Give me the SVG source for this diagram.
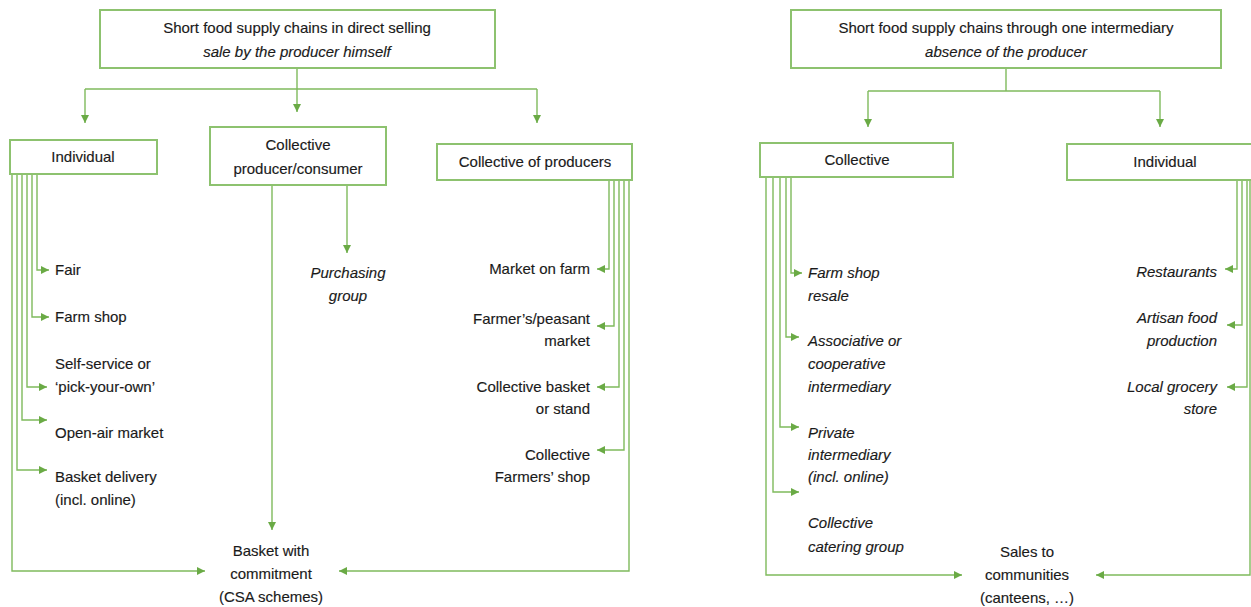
<svg xmlns="http://www.w3.org/2000/svg" width="1251" height="607" viewBox="0 0 1251 607">
<style>
.box{fill:#ffffff;stroke:#8dc26f;stroke-width:2}
.ln{fill:none;stroke:#7fba5c;stroke-width:1.4}
text{font-family:"Liberation Sans",Arial,sans-serif;font-size:15px;fill:#1a1a1a;stroke:#1a1a1a;stroke-width:0.15}
.c{text-anchor:middle}
.e{text-anchor:end}
.i{font-style:italic}
</style>
<defs>
<marker id="ah" markerWidth="10" markerHeight="10" refX="8" refY="4" orient="auto" markerUnits="userSpaceOnUse">
<path d="M0,0 L8,4 L0,8 z" fill="#6aaa45"/>
</marker>
</defs>
<rect width="1251" height="607" fill="#ffffff"/>

<g id="connectors">
<!-- left diagram -->
<path class="ln" d="M297,68 V112" marker-end="url(#ah)"/>
<path class="ln" d="M85,89 H537"/>
<path class="ln" d="M85,89 V123" marker-end="url(#ah)"/>
<path class="ln" d="M537,89 V123" marker-end="url(#ah)"/>
<path class="ln" d="M37,174 V270 H49" marker-end="url(#ah)"/>
<path class="ln" d="M32,174 V317 H49" marker-end="url(#ah)"/>
<path class="ln" d="M27,174 V387 H47" marker-end="url(#ah)"/>
<path class="ln" d="M22,174 V420 H47" marker-end="url(#ah)"/>
<path class="ln" d="M17,174 V470 H47" marker-end="url(#ah)"/>
<path class="ln" d="M12,174 V571 H205" marker-end="url(#ah)"/>
<path class="ln" d="M272,185 V530" marker-end="url(#ah)"/>
<path class="ln" d="M347,185 V253" marker-end="url(#ah)"/>
<path class="ln" d="M609,180 V269 H597" marker-end="url(#ah)"/>
<path class="ln" d="M614,180 V326 H597" marker-end="url(#ah)"/>
<path class="ln" d="M619,180 V387 H597" marker-end="url(#ah)"/>
<path class="ln" d="M624,180 V450 H597" marker-end="url(#ah)"/>
<path class="ln" d="M629,180 V571 H339" marker-end="url(#ah)"/>
<!-- right diagram -->
<path class="ln" d="M1006,68 V91"/>
<path class="ln" d="M868,91 H1160"/>
<path class="ln" d="M868,91 V127" marker-end="url(#ah)"/>
<path class="ln" d="M1160,91 V127" marker-end="url(#ah)"/>
<path class="ln" d="M791,177 V273 H802" marker-end="url(#ah)"/>
<path class="ln" d="M786,177 V337 H799" marker-end="url(#ah)"/>
<path class="ln" d="M780,177 V427 H799" marker-end="url(#ah)"/>
<path class="ln" d="M773,177 V492 H799" marker-end="url(#ah)"/>
<path class="ln" d="M766,177 V575 H962" marker-end="url(#ah)"/>
<path class="ln" d="M1237,180 V269 H1225" marker-end="url(#ah)"/>
<path class="ln" d="M1242,180 V325 H1227" marker-end="url(#ah)"/>
<path class="ln" d="M1247,180 V387 H1227" marker-end="url(#ah)"/>
<path class="ln" d="M1250,180 V575 H1096" marker-end="url(#ah)"/>
</g>

<g id="direct-selling">
<rect class="box" x="100" y="10" width="395" height="58"/>
<text class="c" x="297" y="33">Short food supply chains in direct selling</text>
<text class="c i" x="297" y="57">sale by the producer himself</text>
</g>
<g id="individual-left">
<rect class="box" x="10" y="140" width="147" height="34"/>
<text class="c" x="83" y="162">Individual</text>
</g>
<g id="collective-pc">
<rect class="box" x="210" y="127" width="176" height="58"/>
<text class="c" x="298" y="150">Collective</text>
<text class="c" x="298" y="174">producer/consumer</text>
</g>
<g id="collective-producers">
<rect class="box" x="437" y="144" width="195" height="36"/>
<text class="c" x="535" y="167">Collective of producers</text>
</g>
<g id="fair"><text x="55" y="275">Fair</text></g>
<g id="farm-shop"><text x="55" y="322">Farm shop</text></g>
<g id="self-service"><text x="55" y="369">Self-service or</text><text x="55" y="392">‘pick-your-own’</text></g>
<g id="open-air"><text x="55" y="438">Open-air market</text></g>
<g id="basket-delivery"><text x="55" y="482">Basket delivery</text><text x="55" y="505">(incl. online)</text></g>
<g id="purchasing"><text class="c i" x="348" y="278">Purchasing</text><text class="c i" x="348" y="301">group</text></g>
<g id="market-farm"><text class="e" x="590" y="274">Market on farm</text></g>
<g id="farmers-market"><text class="e" x="590" y="324">Farmer’s/peasant</text><text class="e" x="590" y="346">market</text></g>
<g id="collective-basket"><text class="e" x="590" y="392">Collective basket</text><text class="e" x="590" y="414">or stand</text></g>
<g id="collective-shop"><text class="e" x="590" y="460">Collective</text><text class="e" x="590" y="482">Farmers’ shop</text></g>
<g id="basket-commitment"><text class="c" x="271" y="556">Basket with</text><text class="c" x="271" y="579">commitment</text><text class="c" x="271" y="602">(CSA schemes)</text></g>

<g id="one-intermediary">
<rect class="box" x="791" y="10" width="430" height="58"/>
<text class="c" x="1006" y="33">Short food supply chains through one intermediary</text>
<text class="c i" x="1006" y="57">absence of the producer</text>
</g>
<g id="collective-right">
<rect class="box" x="760" y="143" width="193" height="34"/>
<text class="c" x="857" y="165">Collective</text>
</g>
<g id="individual-right">
<rect class="box" x="1067" y="144" width="200" height="36"/>
<text class="c" x="1165" y="167">Individual</text>
</g>
<g id="farm-shop-resale"><text class="i" x="808" y="278">Farm shop</text><text class="i" x="808" y="301">resale</text></g>
<g id="associative"><text class="i" x="808" y="346">Associative or</text><text class="i" x="808" y="369">cooperative</text><text class="i" x="808" y="392">intermediary</text></g>
<g id="private"><text class="i" x="808" y="438">Private</text><text class="i" x="808" y="460">intermediary</text><text class="i" x="808" y="482">(incl. online)</text></g>
<g id="catering"><text class="i" x="808" y="528">Collective</text><text class="i" x="808" y="552">catering group</text></g>
<g id="sales-communities"><text class="c" x="1027" y="557">Sales to</text><text class="c" x="1027" y="580">communities</text><text class="c" x="1027" y="603">(canteens, …)</text></g>
<g id="restaurants"><text class="e i" x="1217" y="277">Restaurants</text></g>
<g id="artisan"><text class="e i" x="1217" y="323">Artisan food</text><text class="e i" x="1217" y="346">production</text></g>
<g id="grocery"><text class="e i" x="1217" y="392">Local grocery</text><text class="e i" x="1217" y="414">store</text></g>
</svg>
